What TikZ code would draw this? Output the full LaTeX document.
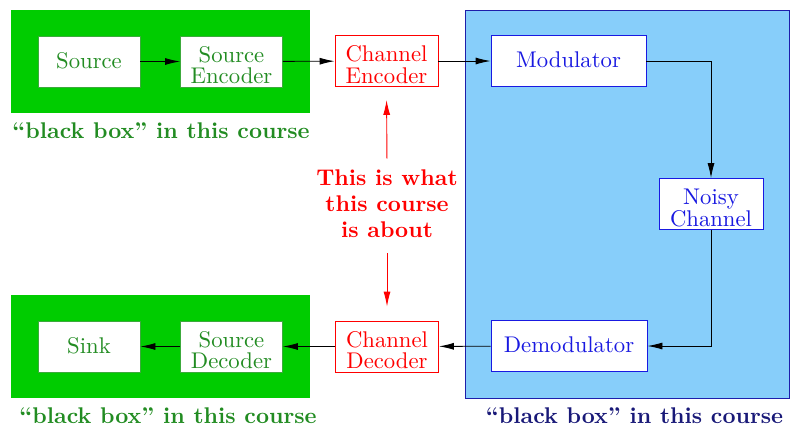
\documentclass[tikz,border=0pt]{standalone}
\usepackage{graphicx}
\usetikzlibrary{arrows.meta}
\definecolor{boxgreen}{RGB}{0,204,0}
\definecolor{txtgreen}{RGB}{34,140,34}
\definecolor{edgegreen}{RGB}{60,170,60}
\definecolor{boxblue}{RGB}{135,206,250}
\definecolor{edgeblue}{RGB}{30,30,170}
\definecolor{txtblue}{RGB}{25,25,225}
\definecolor{navylabel}{RGB}{25,25,120}
\newcommand{\sctext}[1]{\scalebox{2.27}{\fontsize{10}{8.4}\selectfont\begin{tabular}[t]{@{}c@{}}#1\end{tabular}}}
\newcommand{\scbold}[1]{\scalebox{2.27}{\fontsize{10}{11.5}\selectfont\bfseries\begin{tabular}{@{}c@{}}#1\end{tabular}}}
\newcommand{\sclabel}[1]{\scalebox{2.27}{\fontsize{10}{12}\selectfont\bfseries #1}}
\tikzset{
  blk/.style={draw, fill=white, line width=0.9pt, align=center, inner sep=0pt,
    minimum height=51pt},
  one/.style={text height=16pt, text depth=2.4pt},
  two/.style={text height=20pt, text depth=18.6pt},
  gblk/.style={blk, draw=edgegreen, text=txtgreen, minimum width=102pt},
  rblk/.style={blk, draw=red, text=red, minimum width=103pt},
  bblk/.style={blk, draw=txtblue, text=txtblue},
  lbl/.style={anchor=base, inner sep=0pt},
  arr/.style={line width=0.9pt, -{Latex[length=15pt,width=7pt]}},
  rarr/.style={line width=0.9pt, red, -{Latex[length=15pt,width=7pt]}},
}
\begin{document}
\begin{tikzpicture}[x=1pt,y=-1pt]
\useasboundingbox (0,0) rectangle (800,437);
% background regions
\fill[boxgreen] (11,10) rectangle (310,113);
\fill[boxgreen] (11,295) rectangle (310,398);
\filldraw[fill=boxblue, draw=edgeblue, line width=1pt] (465,10) rectangle (789,398);
% nodes
\node[gblk, one] (source) at (89,61.5) {\sctext{Source}};
\node[gblk, two] (srcenc) at (231.5,61.5) {\sctext{Source\\Encoder}};
\node[rblk, two] (chenc) at (386.5,61) {\sctext{Channel\\Encoder}};
\node[bblk, one, minimum width=155pt] (mod) at (568.5,61) {\sctext{Modulator}};
\node[bblk, two, minimum width=104pt] (noisy) at (711,204) {\sctext{Noisy\\Channel}};
\node[bblk, one, minimum width=156pt] (demod) at (569,346) {\sctext{Demodulator}};
\node[rblk, two] (chdec) at (387,346.5) {\sctext{Channel\\Decoder}};
\node[gblk, two] (srcdec) at (231.5,346.5) {\sctext{Source\\Decoder}};
\node[gblk, one] (sink) at (89,346.5) {\sctext{Sink}};
% center text
\node[text=red, inner sep=0pt] (about) at (387,206) {\scbold{This is what\\this course\\is about}};
% labels
\node[lbl, text=txtgreen] (lab1) at (161,138) {\sclabel{``black box'' in this course}};
\node[lbl, text=txtgreen] (lab2) at (168,423) {\sclabel{``black box'' in this course}};
\node[lbl, text=navylabel] (lab3) at (634.5,423) {\sclabel{``black box'' in this course}};
% connectors
\draw[arr] (source) -- (srcenc);
\draw[arr] (srcenc) -- (chenc);
\draw[arr] (chenc) -- (mod);
\draw[arr] (mod.east) -| (noisy.north);
\draw[arr] (noisy.south) |- (demod.east);
\draw[arr] (demod) -- (chdec);
\draw[arr] (chdec) -- (srcdec);
\draw[arr] (srcdec) -- (sink);
\draw[rarr, shorten <=8pt, shorten >=13pt] (about.north) -- (chenc.south);
\draw[rarr, shorten <=8pt, shorten >=14pt] (about.south) -- (chdec.north);
\end{tikzpicture}
\end{document}
